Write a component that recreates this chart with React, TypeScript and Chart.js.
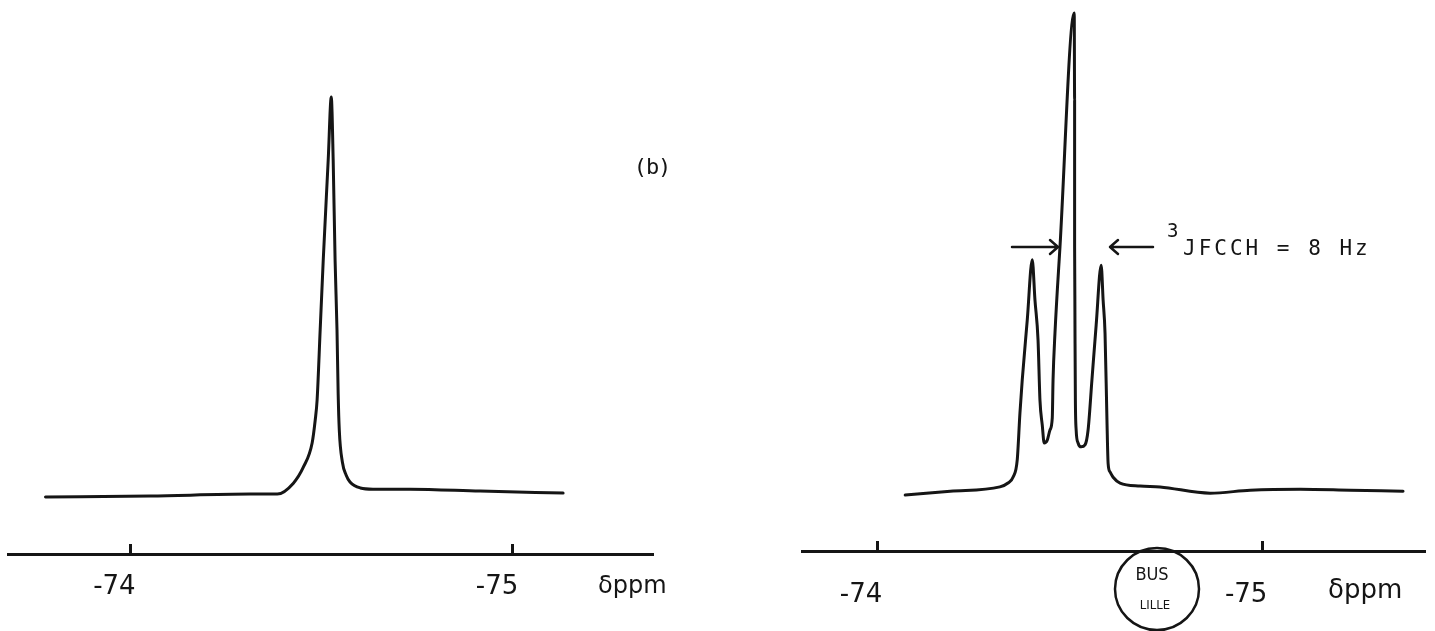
import React, { useEffect, useRef } from "react";
import { Chart, registerables } from "chart.js";

Chart.register(...registerables);

// ---- Data ----
// Left spectrum: 19F signal, chemical shift (ppm) and relative intensity
const leftShift = [
  -73.778, -74.052, -74.313, -74.384, -74.426, -74.452, -74.475, -74.483, -74.488,
  -74.496, -74.504, -74.517, -74.525, -74.53, -74.535, -74.54, -74.543, -74.546,
  -74.554, -74.564, -74.574, -74.601, -74.634, -74.731, -74.914, -75.131,
];
const leftIntensity = [
  -0.5, -0.25, 0.25, 0.25, 3.0, 7.0, 13.1, 18.8, 23.9,
  41.5, 59.0, 84.2, 100, 84.2, 59.0, 41.5, 25.6, 16.3,
  8.3, 5.0, 3.3, 1.8, 1.5, 1.5, 1.0, 0.5,
];
const leftTicks = [-74, -75];

// Right spectrum (b): triplet, 3J(FCCH) = 8 Hz
const rightShift = [
  -74.073, -74.19, -74.319, -74.34, -74.353, -74.364, -74.371, -74.377, -74.39, -74.403,
  -74.41, -74.418, -74.423, -74.429, -74.434, -74.442, -74.449, -74.455, -74.457, -74.462,
  -74.475, -74.512, -74.513, -74.513, -74.514, -74.515, -74.517, -74.522, -74.53,
  -74.54, -74.548, -74.558, -74.569, -74.582, -74.587, -74.592, -74.597, -74.6, -74.605,
  -74.613, -74.631, -74.683, -74.735, -74.865, -74.969, -75.099, -75.229, -75.366,
];
const rightIntensity = [
  0, 0.8, 1.7, 2.5, 3.7, 7.3, 17.0, 23.9, 36.3, 48.8,
  40.5, 32.2, 19.7, 14.5, 10.8, 11.4, 13.5, 16.0, 23.9, 33.6,
  51.5, 100, 81.9, 51.5, 33.6, 19.7, 13.5, 10.8, 10.0,
  10.4, 13.5, 23.9, 35.3, 47.7, 40.5, 33.6, 15.6, 6.6, 4.8,
  3.7, 2.5, 1.9, 1.7, 0.4, 1.0, 1.2, 1.0, 0.8,
];
const rightTicks = [-74, -75];

const unitLabel = "δppm";
const panelLabel = "(b)";
const couplingSup = "3";
const couplingText = "JFCCH = 8 Hz";
const stampTop = "BUS";
const stampBottom = "LILLE";

const INK = "#151515";

const leftDecor = {
  id: "leftDecor",
  afterDraw(chart: any) {
    const ctx = chart.ctx as CanvasRenderingContext2D;
    ctx.save();
    ctx.fillStyle = INK;
    ctx.textAlign = "left";
    ctx.textBaseline = "alphabetic";
    ctx.font = '24px "DejaVu Sans"';
    ctx.fillText(unitLabel, 598, 593);
    ctx.font = '22px "DejaVu Sans Mono"';
    ctx.textAlign = "center";
    ctx.textBaseline = "middle";
    (ctx as any).letterSpacing = "-1px";
    ctx.fillText(panelLabel, 652, 168);
    (ctx as any).letterSpacing = "0px";
    ctx.restore();
  },
};

const rightDecor = {
  id: "rightDecor",
  afterDraw(chart: any) {
    const ctx = chart.ctx as CanvasRenderingContext2D;
    ctx.save();
    ctx.fillStyle = INK;
    ctx.strokeStyle = INK;
    // unit label
    ctx.textAlign = "left";
    ctx.textBaseline = "alphabetic";
    ctx.font = '26px "DejaVu Sans"';
    ctx.fillText(unitLabel, 611, 598);

    // arrows marking the coupling
    ctx.lineWidth = 2.5;
    ctx.lineCap = "round";
    ctx.lineJoin = "round";
    ctx.beginPath();
    ctx.moveTo(295, 247);
    ctx.lineTo(341, 247);
    ctx.moveTo(333, 240);
    ctx.lineTo(341, 247);
    ctx.lineTo(333, 254);
    ctx.moveTo(436, 247);
    ctx.lineTo(393, 247);
    ctx.moveTo(401, 240);
    ctx.lineTo(393, 247);
    ctx.lineTo(401, 254);
    ctx.stroke();

    // coupling constant text
    ctx.font = '19px "DejaVu Sans Mono"';
    ctx.fillText(couplingSup, 450, 237);
    ctx.font = '21px "DejaVu Sans Mono"';
    (ctx as any).letterSpacing = "3px";
    ctx.fillText(couplingText, 466, 255);
    (ctx as any).letterSpacing = "0px";

    // library stamp
    ctx.lineWidth = 2.5;
    ctx.beginPath();
    ctx.ellipse(440, 589, 42, 41, 0, 0, Math.PI * 2);
    ctx.stroke();
    ctx.textAlign = "center";
    ctx.textBaseline = "middle";
    ctx.font = '18px "DejaVu Sans Condensed", "DejaVu Sans"';
    ctx.fillText(stampTop, 435, 575);
    ctx.font = '13px "DejaVu Sans Condensed", "DejaVu Sans"';
    ctx.fillText(stampBottom, 438, 606);
    ctx.restore();
  },
};

function buildConfig(
  shift: number[],
  intensity: number[],
  ticks: number[],
  xMin: number,
  xMax: number,
  yMin: number,
  yMax: number,
  padLeft: number,
  padRight: number,
  padBottom: number,
  tickPadding: number,
  decor: any
): any {
  return {
    type: "line",
    data: {
      datasets: [
        {
          data: shift.map((x, i) => ({ x, y: intensity[i] })),
          borderColor: INK,
          borderWidth: 3,
          pointRadius: 0,
          fill: false,
          tension: 0,
          cubicInterpolationMode: "monotone",
          borderCapStyle: "round",
          borderJoinStyle: "round",
        },
      ],
    },
    options: {
      responsive: false,
      animation: false,
      events: [],
      layout: { padding: { left: padLeft, right: padRight, top: 0, bottom: padBottom } },
      plugins: { legend: { display: false }, tooltip: { enabled: false } },
      scales: {
        x: {
          type: "linear",
          reverse: true,
          min: xMin,
          max: xMax,
          afterBuildTicks: (axis: any) => {
            axis.ticks = ticks.map((v) => ({ value: v }));
          },
          grid: {
            drawOnChartArea: false,
            drawTicks: true,
            tickLength: -10,
            tickWidth: 3,
            tickColor: INK,
          },
          border: { display: true, color: INK, width: 3 },
          ticks: {
            autoSkip: false,
            maxRotation: 0,
            minRotation: 0,
            padding: tickPadding,
            labelOffset: -16,
            color: INK,
            font: { family: "DejaVu Sans", size: 26 },
            callback: (v: any) => String(v),
          },
        },
        y: { type: "linear", display: false, min: yMin, max: yMax },
      },
    },
    plugins: [decor],
  };
}

export default function App() {
  const leftRef = useRef<HTMLCanvasElement>(null);
  const rightRef = useRef<HTMLCanvasElement>(null);

  useEffect(() => {
    const a = new Chart(
      leftRef.current as HTMLCanvasElement,
      buildConfig(leftShift, leftIntensity, leftTicks, -75.366, -73.68, -14.8, 124.4, 8, 64, 70, 27.4, leftDecor)
    );
    const b = new Chart(
      rightRef.current as HTMLCanvasElement,
      buildConfig(rightShift, rightIntensity, rightTicks, -75.423, -73.805, -11.6, 102.7, 85, 10, 51, 38.4, rightDecor)
    );
    return () => {
      a.destroy();
      b.destroy();
    };
  }, []);

  return (
    <div
      style={{
        position: "fixed",
        left: 0,
        top: 0,
        width: 1435,
        height: 631,
        overflow: "hidden",
        background: "#ffffff",
      }}
    >
      <canvas ref={leftRef} width={717} height={700} style={{ position: "absolute", left: 0, top: 0 }} />
      <canvas ref={rightRef} width={718} height={700} style={{ position: "absolute", left: 717, top: 0 }} />
    </div>
  );
}
